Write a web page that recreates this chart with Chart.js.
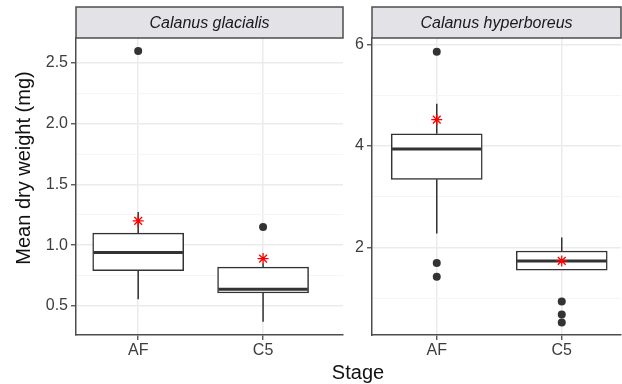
<!DOCTYPE html>
<html>
<head>
<meta charset="utf-8">
<script src="https://cdn.jsdelivr.net/npm/chart.js@4"></script>
<style>
  body { margin: 0; background: #fff; }
  #wrap { position: relative; width: 622px; height: 384px; overflow: hidden; font-family: "Liberation Sans", Arial, Helvetica, sans-serif; }
  canvas { position: absolute; top: 0; }
  .axis-title { position: absolute; font-size: 20px; line-height: 24px; color: #111; text-align: center; white-space: nowrap; }
</style>
</head>
<body>
<div id="wrap">
  <canvas id="left" width="346" height="384" style="left:0"></canvas>
  <canvas id="right" width="276" height="384" style="left:346px"></canvas>
  <div class="axis-title" style="left:-127px; top:156px; width:300px; transform:rotate(-90deg);">Mean dry weight (mg)</div>
  <div class="axis-title" style="left:258px; top:360px; width:200px;">Stage</div>
</div>
<script>
// ============================================
// Boxplots of dry weight per stage, one panel per species
// ============================================

const stages = ['AF', 'C5'];
const speciesNames = ['Calanus glacialis', 'Calanus hyperboreus'];

// Calanus glacialis
const glacLower = [0.555, 0.37];
const glacQ1 = [0.79, 0.607];
const glacMedian = [0.94, 0.637];
const glacQ3 = [1.10, 0.82];
const glacUpper = [1.274, 0.85];
const glacMean = [1.20, 0.89];
const glacOutliers = [[2.60], [1.15]];
const glacTicks = [0.5, 0.75, 1.0, 1.25, 1.5, 1.75, 2.0, 2.25, 2.5];

// Calanus hyperboreus
const hypLower = [2.28, 1.56];
const hypQ1 = [3.345, 1.56];
const hypMedian = [3.94, 1.74];
const hypQ3 = [4.24, 1.935];
const hypUpper = [4.83, 2.20];
const hypMean = [4.52, 1.74];
const hypOutliers = [[5.855, 1.70, 1.43], [0.94, 0.685, 0.53]];
const hypTicks = [1, 2, 3, 4, 5, 6];

const INK = '#333333';
const AXIS = '#4d4d4d';

const boxPlugin = {
    id: 'boxParts',
    beforeDatasetsDraw(chart) {
        const p = chart.options.plugins.boxParts;
        const { ctx, scales: { x, y } } = chart;
        ctx.save();
        ctx.strokeStyle = INK;
        ctx.lineWidth = 1.5;
        stages.forEach((s, i) => {
            const px = x.getPixelForValue(i + 1);
            ctx.beginPath();
            ctx.moveTo(px, y.getPixelForValue(p.upper[i]));
            ctx.lineTo(px, y.getPixelForValue(p.q3[i]));
            ctx.moveTo(px, y.getPixelForValue(p.q1[i]));
            ctx.lineTo(px, y.getPixelForValue(p.lower[i]));
            ctx.stroke();
        });
        ctx.restore();
    },
    afterDatasetDraw(chart, args) {
        if (args.index !== 0) return;
        const p = chart.options.plugins.boxParts;
        const { ctx, scales: { x, y } } = chart;
        const half = p.boxWidth / 2;
        ctx.save();
        ctx.strokeStyle = INK;
        ctx.lineWidth = 3;
        stages.forEach((s, i) => {
            const px = x.getPixelForValue(i + 1);
            const py = y.getPixelForValue(p.median[i]);
            ctx.beginPath();
            ctx.moveTo(px - half + 0.8, py);
            ctx.lineTo(px + half - 0.8, py);
            ctx.stroke();
        });
        ctx.restore();
    },
    afterDraw(chart) {
        const p = chart.options.plugins.boxParts;
        const { ctx, chartArea: a } = chart;
        ctx.save();
        ctx.fillStyle = '#e3e3e7';
        ctx.strokeStyle = AXIS;
        ctx.lineWidth = 1.5;
        ctx.fillRect(a.left, 7, a.right - a.left, a.top - 7);
        ctx.strokeRect(a.left, 7, a.right - a.left, a.top - 7);
        ctx.fillStyle = '#1a1a1a';
        ctx.font = 'italic 16px "Liberation Sans", Arial, sans-serif';
        ctx.textAlign = 'center';
        ctx.textBaseline = 'middle';
        ctx.fillText(p.title, (a.left + a.right) / 2, (7 + a.top) / 2 + 1);
        ctx.restore();
    }
};

function makePanel(id, cfg) {
    const isMajor = v => Math.abs(v / cfg.majorStep - Math.round(v / cfg.majorStep)) < 1e-9;
    const boxWidth = 91;
    new Chart(document.getElementById(id), {
        type: 'bar',
        data: {
            datasets: [
                {
                    type: 'bar',
                    data: stages.map((s, i) => ({ x: i + 1, y: [cfg.q1[i], cfg.q3[i]] })),
                    backgroundColor: '#ffffff',
                    borderColor: INK,
                    borderWidth: 1.5,
                    borderSkipped: false,
                    barThickness: boxWidth,
                    order: 3
                },
                {
                    type: 'scatter',
                    data: cfg.outliers.flatMap((list, i) => list.map(v => ({ x: i + 1, y: v }))),
                    pointRadius: 4,
                    pointBackgroundColor: INK,
                    pointBorderWidth: 0,
                    order: 2
                },
                {
                    type: 'scatter',
                    data: cfg.mean.map((v, i) => ({ x: i + 1, y: v })),
                    pointStyle: 'star',
                    pointRadius: 5.5,
                    pointBorderColor: '#ff0000',
                    pointBorderWidth: 1.3,
                    order: 1
                }
            ]
        },
        options: {
            responsive: false,
            animation: false,
            events: [],
            layout: { autoPadding: false, padding: { top: 38, right: cfg.padRight, bottom: 0, left: 0 } },
            plugins: {
                legend: { display: false },
                tooltip: { enabled: false },
                boxParts: {
                    title: cfg.title,
                    lower: cfg.lower, q1: cfg.q1, median: cfg.median,
                    q3: cfg.q3, upper: cfg.upper, boxWidth: boxWidth
                }
            },
            scales: {
                x: {
                    type: 'linear',
                    min: cfg.xMin,
                    max: cfg.xMax,
                    offset: false,
                    afterBuildTicks: s => { s.ticks = stages.map((c, i) => ({ value: i + 1 })); },
                    afterFit: s => { s.height = 49; },
                    grid: { offset: false, color: '#ebebeb', lineWidth: 1.5, tickColor: AXIS, tickLength: 5, tickWidth: 1.3 },
                    border: { display: true, color: AXIS, width: 1.5 },
                    ticks: {
                        autoSkip: false,
                        maxRotation: 0,
                        padding: 1,
                        color: '#3d3d3d',
                        font: { family: '"Liberation Sans", Arial, sans-serif', size: 16 },
                        callback: v => stages[Math.round(v) - 1]
                    }
                },
                y: {
                    type: 'linear',
                    min: cfg.yMin,
                    max: cfg.yMax,
                    afterBuildTicks: s => { s.ticks = cfg.ticks.map(v => ({ value: v })); },
                    afterFit: s => { s.width = cfg.yWidth; },
                    grid: {
                        color: c => isMajor(c.tick.value) ? '#ebebeb' : '#f5f5f5',
                        lineWidth: c => isMajor(c.tick.value) ? 1.5 : 1,
                        tickColor: c => isMajor(c.tick.value) ? AXIS : 'rgba(0,0,0,0)',
                        tickLength: 5,
                        tickWidth: 1.3
                    },
                    border: { display: true, color: AXIS, width: 1.5 },
                    ticks: {
                        autoSkip: false,
                        padding: 3,
                        color: '#3d3d3d',
                        font: { family: '"Liberation Sans", Arial, sans-serif', size: 16 },
                        callback: v => isMajor(v) ? cfg.format(v) : ''
                    }
                }
            }
        },
        plugins: [boxPlugin]
    });
}

makePanel('left', {
    title: speciesNames[0],
    lower: glacLower, q1: glacQ1, median: glacMedian, q3: glacQ3, upper: glacUpper,
    mean: glacMean, outliers: glacOutliers, ticks: glacTicks, majorStep: 0.5,
    format: v => v.toFixed(1),
    xMin: 0.502, xMax: 2.64, yMin: 0.261, yMax: 2.706,
    yWidth: 76, padRight: 3
});

makePanel('right', {
    title: speciesNames[1],
    lower: hypLower, q1: hypQ1, median: hypMedian, q3: hypQ3, upper: hypUpper,
    mean: hypMean, outliers: hypOutliers, ticks: hypTicks, majorStep: 2,
    format: v => String(v),
    xMin: 0.482, xMax: 2.474, yMin: 0.283, yMax: 6.124,
    yWidth: 26, padRight: 1
});
</script>
</body>
</html>
